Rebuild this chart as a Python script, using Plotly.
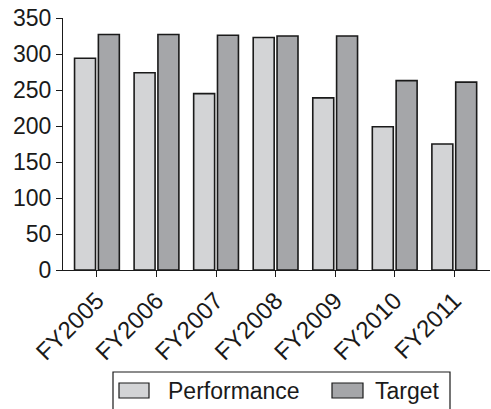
import plotly.graph_objects as go

# Fiscal years and the two series compared per year
years = ["FY2005", "FY2006", "FY2007", "FY2008", "FY2009", "FY2010", "FY2011"]
performance = [294, 274, 245, 323, 239, 199, 175]
target = [327, 327, 326, 325, 325, 263, 261]
y_ticks = [0, 50, 100, 150, 200, 250, 300, 350]
series_names = ["Performance", "Target"]
series_colors = ["#d3d4d6", "#a5a6a9"]

FONT = "Liberation Sans, Arial, Helvetica, sans-serif"
INK = "#1a1a1a"
OUTLINE = dict(color=INK, width=1.6)

# Plot-area geometry in pixels, used to place the legend box below the axes
L, R, T, B = 63, 1, 18, 139
W, H = 491, 409
PW, PH = W - L - R, H - T - B


def px_x(px):
    return (px - L) / PW


def px_y(py):
    return (H - B - py) / PH


fig = go.Figure()
for name, vals, col in zip(series_names, [performance, target], series_colors):
    fig.add_trace(go.Bar(x=years, y=vals, name=name,
                         marker=dict(color=col, line=OUTLINE)))

# Legend drawn as a framed box with wide swatches
shapes = [dict(type="rect", xref="paper", yref="paper",
               x0=px_x(113), x1=px_x(450), y0=px_y(372), y1=px_y(430),
               line=dict(color=INK, width=1.2), fillcolor="white")]
annotations = []
for (sx0, sx1, tx), name, col in zip([(119, 149, 166), (332, 363, 373)],
                                     series_names, series_colors):
    shapes.append(dict(type="rect", xref="paper", yref="paper",
                       x0=px_x(sx0), x1=px_x(sx1), y0=px_y(383), y1=px_y(398),
                       line=dict(color=INK, width=1.2), fillcolor=col))
    annotations.append(dict(xref="paper", yref="paper", x=px_x(tx), y=px_y(390.5),
                            xanchor="left", yanchor="middle", showarrow=False,
                            text=name, font=dict(size=23, family=FONT, color=INK)))

fig.update_layout(
    width=W, height=H,
    margin=dict(l=L, r=R, t=T, b=B),
    paper_bgcolor="white", plot_bgcolor="white",
    font=dict(family=FONT, color=INK),
    barmode="group", bargap=0.2, bargroupgap=0.12,
    showlegend=False,
    shapes=shapes, annotations=annotations,
)
fig.update_xaxes(
    type="category", range=[-0.57, 6.6],
    showline=True, linecolor=INK, linewidth=1.2,
    ticks="outside", ticklen=6, tickcolor=INK,
    tickangle=-45, tickfont=dict(size=24, family=FONT),
    showgrid=False, zeroline=False,
)
fig.update_yaxes(
    range=[0, 350], tickvals=y_ticks,
    showline=True, linecolor=INK, linewidth=1.2,
    ticks="outside", ticklen=6, tickcolor=INK,
    tickfont=dict(size=23, family=FONT),
    showgrid=False, zeroline=False,
)

fig.write_html("out.html")
